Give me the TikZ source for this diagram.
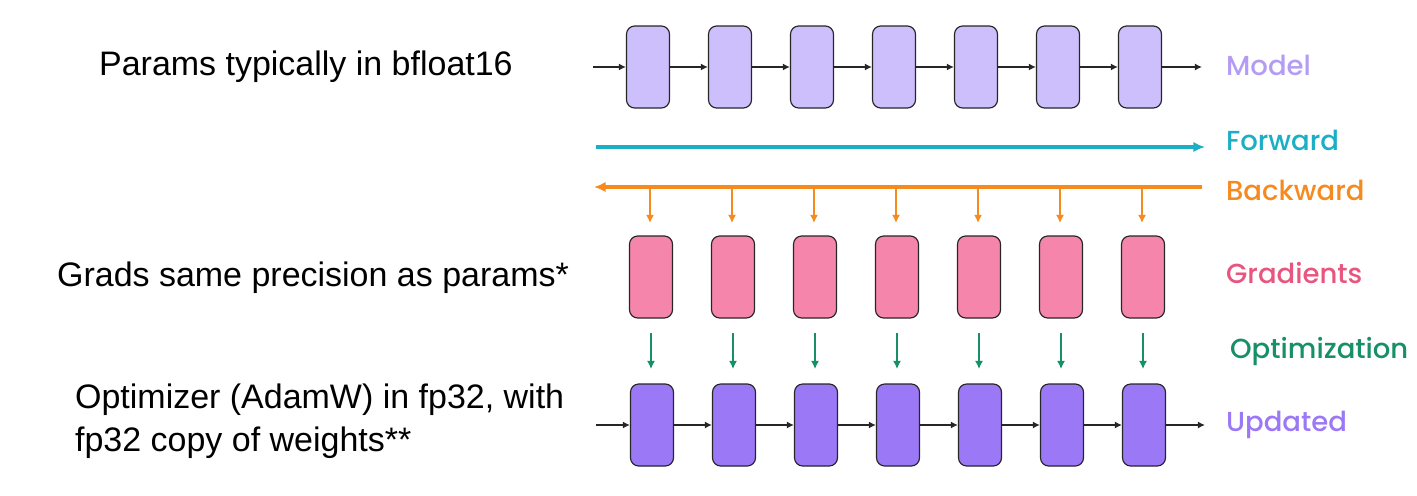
\documentclass[tikz,border=0pt]{standalone}
\usepackage{fontspec}
\setmainfont{Liberation Sans}
\newfontfamily\lab{Poppins}[UprightFont=* Medium]
\usetikzlibrary{arrows.meta}
\definecolor{mlav}{HTML}{CDBEFC}
\definecolor{mlavtxt}{HTML}{B49CF5}
\definecolor{fwd}{HTML}{1BAFC6}
\definecolor{bwd}{HTML}{F58A1F}
\definecolor{gpink}{HTML}{F585AA}
\definecolor{gtxt}{HTML}{E8567F}
\definecolor{opt}{HTML}{178F68}
\definecolor{upd}{HTML}{9B78F5}
\begin{document}
\begin{tikzpicture}[x=0.03cm,y=-0.03cm,
  blk/.style={draw=black!85,line width=1pt,rounded corners=7pt,minimum width=1.29cm,minimum height=2.46cm,inner sep=0},
  ar/.style={-{Latex[length=6pt,width=6pt]},line width=1.2pt,black!85},
  lbl/.style={anchor=west,font=\lab\fontsize{23.5}{27}\selectfont},
  txt/.style={anchor=west,font=\fontsize{29}{37}\selectfont,align=left}]
\useasboundingbox (0,0) rectangle (1417,495);
\node[txt] (t1) at (95,67) {Params typically in bfloat16};
\node[txt] (t2) at (53,278) {Grads same precision as params*};
\node[txt] (t3) at (71,421) {Optimizer (AdamW) in fp32, with\\fp32 copy of weights**};
\coordinate (ms) at (593,67); \coordinate (me) at (1202,67);
\coordinate (us) at (596,425); \coordinate (ue) at (1205,425);
\foreach \i in {0,...,6}{
  \node[blk,fill=mlav] (m\i) at ({648+82*\i},67) {};
  \node[blk,fill=gpink] (g\i) at ({651+82*\i},277) {};
  \node[blk,fill=upd] (u\i) at ({652+82*\i},425) {};
  \coordinate (b\i) at ({650+82*\i},187);
  \coordinate (bt\i) at ({650+82*\i},223);
  \coordinate (os\i) at ({651+82*\i},333);
  \coordinate (oe\i) at ({651+82*\i},369);
  \draw[-{Latex[length=7pt,width=7pt]},bwd,line width=1.3pt] (b\i) -- (bt\i);
  \draw[-{Latex[length=7pt,width=7pt]},opt,line width=1.3pt] (os\i) -- (oe\i);
}
\draw[ar] (ms) -- (m0);
\draw[ar] (us) -- (u0);
\foreach \i [evaluate=\i as \j using int(\i+1)] in {0,...,5}{
  \draw[ar] (m\i) -- (m\j);
  \draw[ar] (u\i) -- (u\j);
}
\draw[ar] (m6) -- (me);
\draw[ar] (u6) -- (ue);
\coordinate (fs) at (596,147); \coordinate (fe) at (1205,147);
\draw[-{Latex[length=10pt,width=9pt]},fwd,line width=2.6pt] (fs) -- (fe);
\coordinate (bs) at (1202,187); \coordinate (be) at (594,187);
\draw[-{Latex[length=10pt,width=9pt]},bwd,line width=2.6pt] (bs) -- (be);
\node[lbl,text=mlavtxt] (l1) at (1222,65) {Model};
\node[lbl,text=fwd] (l2) at (1222,140) {Forward};
\node[lbl,text=bwd] (l3) at (1222,190) {Backward};
\node[lbl,text=gtxt] (l4) at (1222,273) {Gradients};
\node[lbl,text=opt] (l5) at (1226,352) {Optimization};
\node[lbl,text=upd] (l6) at (1222,425) {Updated};
\end{tikzpicture}
\end{document}
